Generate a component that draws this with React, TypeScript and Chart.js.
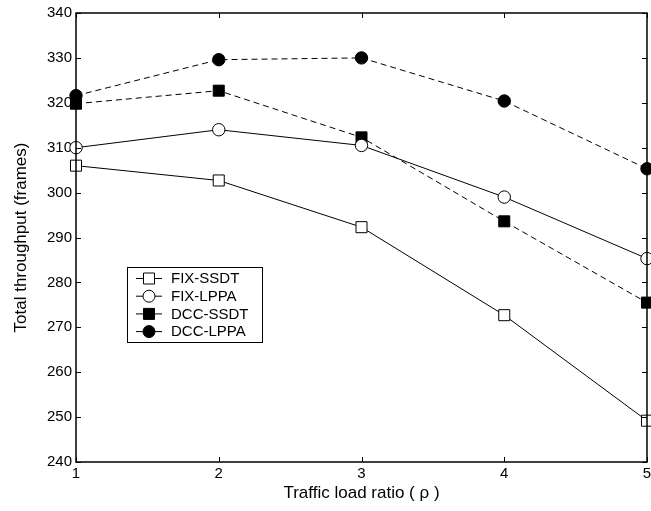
import React, { useEffect, useRef } from "react";
import { Chart, registerables } from "chart.js";

Chart.register(...registerables);

const loadRatio = [1, 2, 3, 4, 5];
const fixSsdt = [306.0, 302.7, 292.3, 272.7, 249.2];
const fixLppa = [310.0, 314.0, 310.5, 299.0, 285.3];
const dccSsdt = [319.8, 322.7, 312.3, 293.6, 275.5];
const dccLppa = [321.6, 329.6, 330.0, 320.4, 305.3];
const yTicks = [240, 250, 260, 270, 280, 290, 300, 310, 320, 330, 340];
const xTicks = [1, 2, 3, 4, 5];

const FONT = "'Liberation Sans', Arial, Helvetica, sans-serif";

type Series = { label: string; data: number[]; style: string; filled: boolean; dashed: boolean };
const seriesList: Series[] = [
  { label: "FIX-SSDT", data: fixSsdt, style: "rect", filled: false, dashed: false },
  { label: "FIX-LPPA", data: fixLppa, style: "circle", filled: false, dashed: false },
  { label: "DCC-SSDT", data: dccSsdt, style: "rect", filled: true, dashed: true },
  { label: "DCC-LPPA", data: dccLppa, style: "circle", filled: true, dashed: true },
];

const frameAndLegend = {
  id: "frameAndLegend",
  afterDraw(chart: any) {
    const { ctx, chartArea } = chart;
    const { left, right, top, bottom } = chartArea;
    const xs = chart.scales.x;
    const ys = chart.scales.y;
    ctx.save();
    ctx.strokeStyle = "#000";
    ctx.lineWidth = 1.5;
    ctx.setLineDash([]);
    ctx.strokeRect(left, top, right - left, bottom - top);
    ctx.lineWidth = 1;
    const tl = 5;
    for (const v of yTicks) {
      const y = Math.round(ys.getPixelForValue(v)) + 0.5;
      ctx.beginPath();
      ctx.moveTo(left, y); ctx.lineTo(left + tl, y);
      ctx.moveTo(right, y); ctx.lineTo(right - tl, y);
      ctx.stroke();
    }
    ctx.fillStyle = "#000";
    ctx.font = `15px ${FONT}`;
    ctx.textAlign = "center";
    ctx.textBaseline = "top";
    for (const v of xTicks) {
      const xp = xs.getPixelForValue(v);
      const x = Math.round(xp) + 0.5;
      ctx.beginPath();
      ctx.moveTo(x, bottom); ctx.lineTo(x, bottom - tl);
      ctx.moveTo(x, top); ctx.lineTo(x, top + tl);
      ctx.stroke();
      ctx.fillText(String(v), xp, bottom + 4);
    }
    // legend
    const bx = 127.5, by = 267.5, bw = 135, bh = 75;
    ctx.fillStyle = "#fff";
    ctx.fillRect(bx, by, bw, bh);
    ctx.strokeRect(bx, by, bw, bh);
    ctx.font = `15px ${FONT}`;
    ctx.textBaseline = "middle";
    ctx.textAlign = "left";
    seriesList.forEach((s, i) => {
      const y = 278.5 + i * 17.7;
      ctx.beginPath();
      ctx.strokeStyle = "#000";
      ctx.lineWidth = 1;
      ctx.moveTo(136, y); ctx.lineTo(162, y);
      ctx.stroke();
      ctx.beginPath();
      ctx.fillStyle = s.filled ? "#000" : "#fff";
      if (s.style === "rect") {
        ctx.rect(143.5, y - 5.5, 11, 11);
      } else {
        ctx.arc(149, y, 6, 0, Math.PI * 2);
      }
      ctx.fill();
      ctx.stroke();
      ctx.fillStyle = "#000";
      ctx.fillText(s.label, 171, y + 0.5);
    });
    ctx.restore();
  },
};

export default function App() {
  const ref = useRef<HTMLCanvasElement | null>(null);
  useEffect(() => {
    if (!ref.current) return;
    const chart = new Chart(ref.current, {
      type: "line",
      data: {
        datasets: seriesList.map((s) => ({
          label: s.label,
          data: s.data.map((v, i) => ({ x: loadRatio[i], y: v })),
          borderColor: "#000",
          borderWidth: 1,
          borderDash: s.dashed ? [6, 4] : [],
          backgroundColor: s.filled ? "#000" : "#fff",
          pointBackgroundColor: s.filled ? "#000" : "#fff",
          pointBorderColor: "#000",
          pointBorderWidth: 1,
          pointStyle: s.style,
          pointRadius: s.style === "rect" ? 7.8 : 6.2,
          tension: 0,
          fill: false,
          clip: false,
        })),
      },
      options: {
        animation: false,
        responsive: false,
        maintainAspectRatio: false,
        layout: { autoPadding: false, padding: { left: 0, right: 4, top: 12, bottom: 0 } },
        plugins: { legend: { display: false }, tooltip: { enabled: false } },
        scales: {
          x: {
            type: "linear",
            min: 1,
            max: 5,
            afterBuildTicks: (s: any) => { s.ticks = xTicks.map((v) => ({ value: v })); },
            afterFit: (s: any) => { s.height = 49; },
            grid: { display: false, drawTicks: false },
            border: { display: false },
            ticks: { display: false },
            title: { display: true, text: "Traffic load ratio ( ρ )", color: "#000", font: { family: FONT, size: 17 }, padding: { top: 0, bottom: 7 } },
          },
          y: {
            type: "linear",
            min: 240,
            max: 340,
            afterBuildTicks: (s: any) => { s.ticks = yTicks.map((v) => ({ value: v })); },
            afterFit: (s: any) => { s.width = 76; },
            grid: { display: false, drawTicks: false },
            border: { display: false },
            ticks: { color: "#000", font: { family: FONT, size: 15 }, padding: 4 },
            title: { display: true, text: "Total throughput (frames)", color: "#000", font: { family: FONT, size: 17 }, padding: { top: 11, bottom: 0 } },
          },
        },
      },
      plugins: [frameAndLegend],
    } as any);
    return () => chart.destroy();
  }, []);
  return (
    <div style={{ position: "fixed", left: 0, top: 0, width: 651, height: 511, background: "#fff" }}>
      <canvas ref={ref} width={651} height={511} style={{ width: 651, height: 511, display: "block" }} />
    </div>
  );
}
